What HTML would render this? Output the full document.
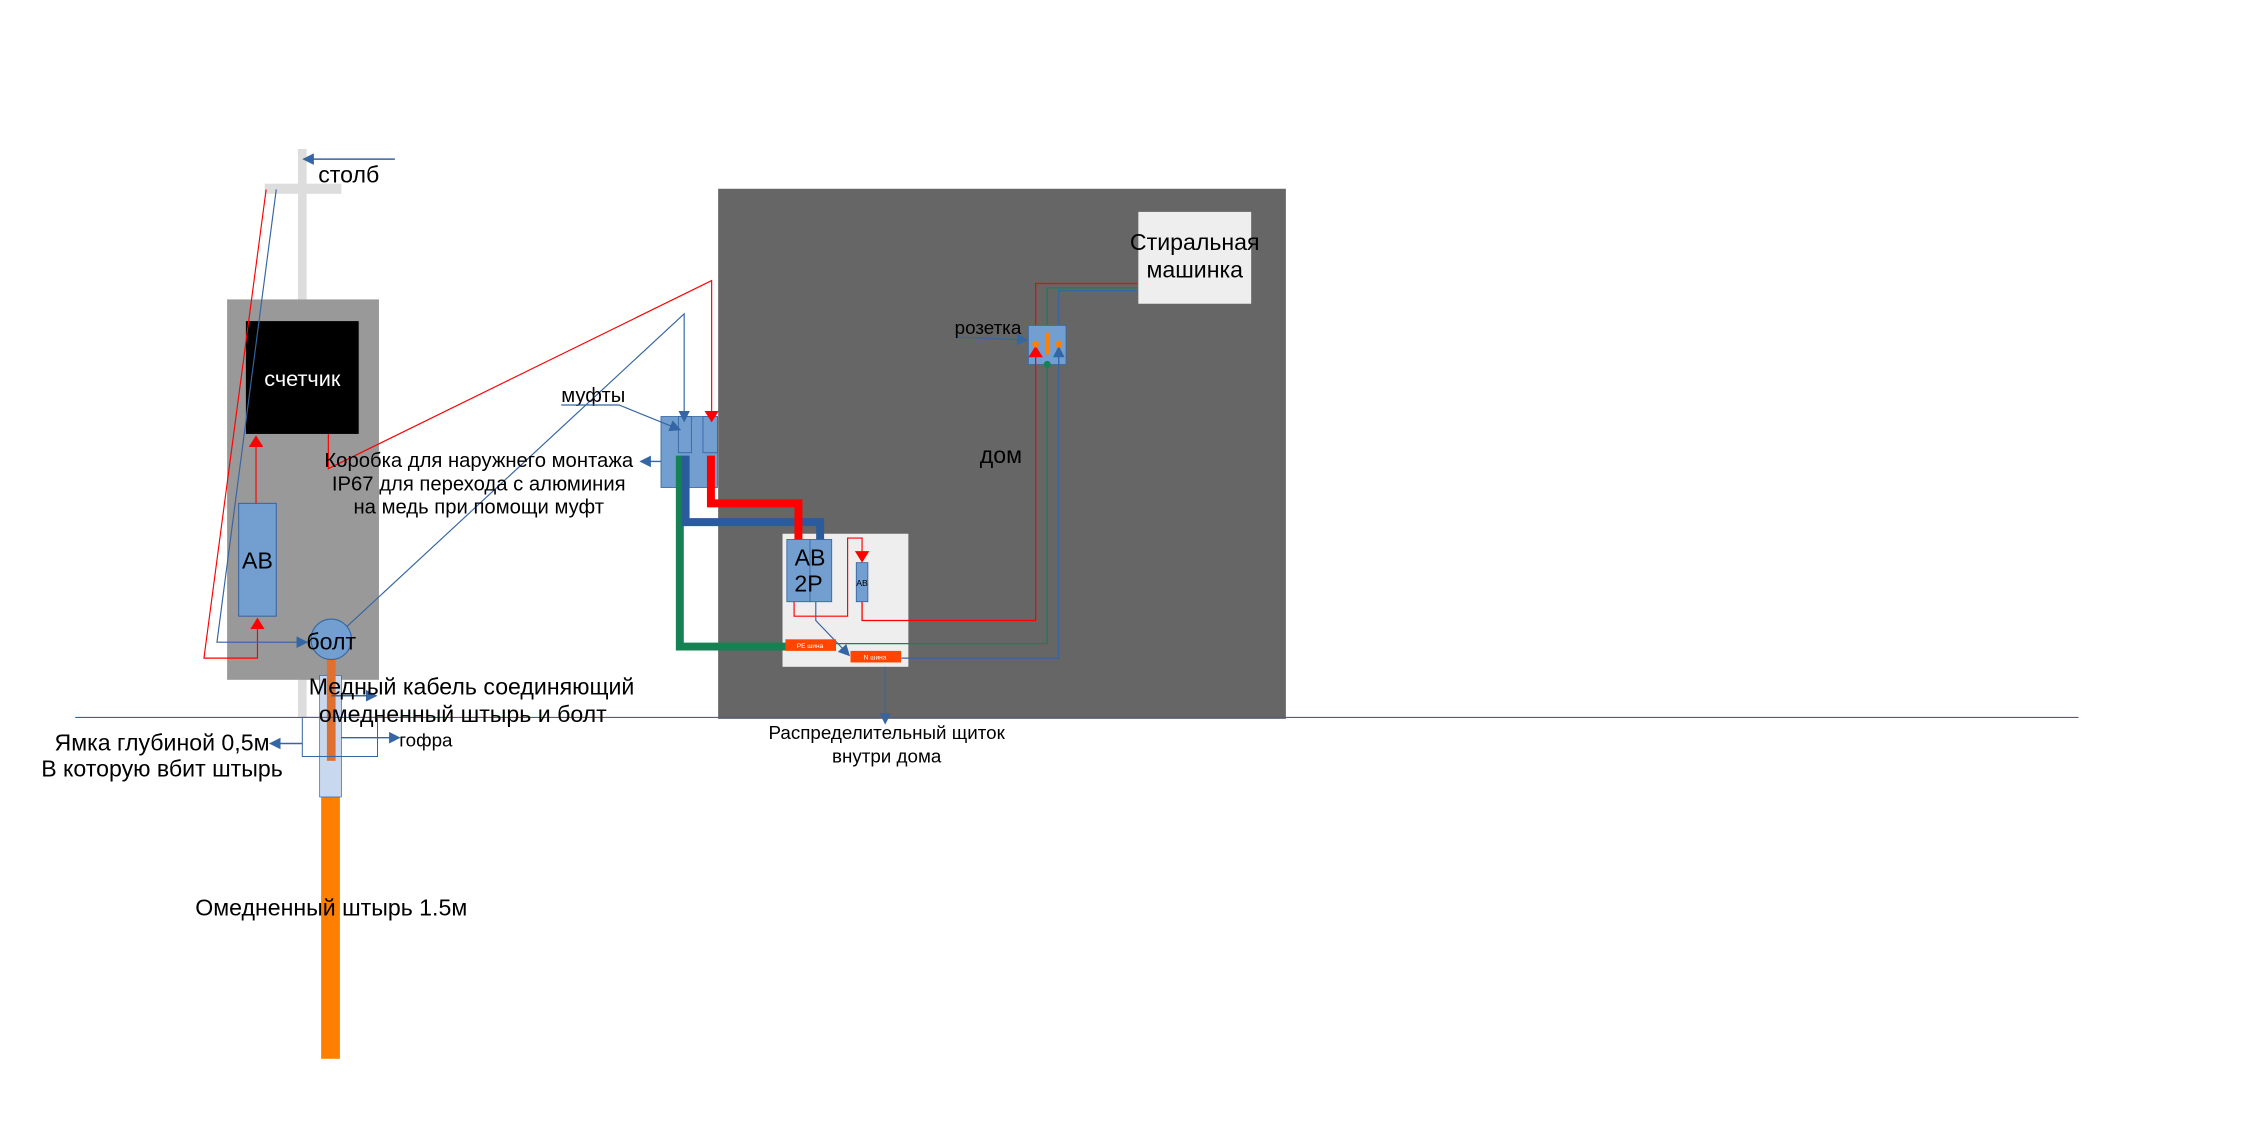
<!DOCTYPE html>
<html><head><meta charset="utf-8"><style>html,body{margin:0;padding:0;background:#fff}svg{display:block}</style></head><body>
<svg width="2268" height="1134" viewBox="0 0 1568 784" xmlns="http://www.w3.org/2000/svg" font-family="Liberation Sans, DejaVu Sans, sans-serif">
<defs>
<marker id="ab" markerWidth="8" markerHeight="8" refX="7" refY="4" orient="auto" markerUnits="userSpaceOnUse"><path d="M0,0 L8,4 L0,8 z" fill="#3465a4"/></marker>
<marker id="ar" markerWidth="8" markerHeight="10" refX="7" refY="5" orient="auto" markerUnits="userSpaceOnUse"><path d="M0,0 L8,5 L0,10 z" fill="#ff0000"/></marker>
<marker id="ag" markerWidth="8" markerHeight="8" refX="4" refY="4" orient="auto" markerUnits="userSpaceOnUse"><circle cx="4" cy="4" r="3.5" fill="#168253"/></marker>
</defs>
<!-- house -->
<rect x="496.5" y="130.5" width="392.5" height="366.5" fill="#666"/>
<!-- pole -->
<rect x="206" y="103" width="6" height="393" fill="#ddd"/>
<rect x="183" y="127" width="53" height="7" fill="#ddd"/>
<line x1="273" y1="110" x2="210" y2="110" stroke="#3465a4" stroke-width="1" marker-end="url(#ab)"/>
<text x="220" y="126" font-size="16">столб</text>
<!-- meter box -->
<rect x="157" y="207" width="105" height="263" fill="#999"/>
<rect x="170" y="222" width="78" height="78" fill="#000"/>
<text x="209" y="267" font-size="15" fill="#fff" text-anchor="middle">счетчик</text>
<rect x="165" y="348" width="26" height="78" fill="#729fcf" stroke="#3465a4" stroke-width="0.7"/>
<text x="178" y="393" font-size="16" text-anchor="middle">АВ</text>
<line x1="177" y1="348" x2="177" y2="302" stroke="#f00" stroke-width="0.8" marker-end="url(#ar)"/>
<polyline points="184,131 141,455 178,455 178,428" fill="none" stroke="#f00" stroke-width="0.8" marker-end="url(#ar)"/>
<polyline points="191,131 150,444 212,444" fill="none" stroke="#3465a4" stroke-width="0.8" marker-end="url(#ab)"/>
<!-- ground -->
<rect x="222" y="525" width="13" height="207" fill="#ff8000"/>
<rect x="221" y="467" width="15" height="84" fill="#c8d8ee" stroke="#3465a4" stroke-width="0.5"/>
<rect x="226" y="456" width="6" height="70" fill="#e07030"/>
<rect x="209" y="496" width="52" height="27" fill="none" stroke="#3465a4" stroke-width="0.7"/>
<line x1="52" y1="496" x2="1437" y2="496" stroke="#3465a4" stroke-width="0.8"/>
<circle cx="229" cy="442" r="14" fill="#729fcf" stroke="#3465a4" stroke-width="0.8"/>
<text x="229" y="449" font-size="16" text-anchor="middle">болт</text>
<line x1="229" y1="481" x2="260" y2="481" stroke="#3465a4" stroke-width="1" marker-end="url(#ab)"/>
<line x1="236" y1="510" x2="276" y2="510" stroke="#3465a4" stroke-width="1" marker-end="url(#ab)"/>
<line x1="209" y1="514" x2="187" y2="514" stroke="#3465a4" stroke-width="1" marker-end="url(#ab)"/>
<text x="326" y="480" font-size="16" text-anchor="middle">Медный кабель соединяющий</text>
<text x="320" y="499" font-size="16" text-anchor="middle">омедненный штырь и болт</text>
<text x="276" y="516" font-size="13">гофра</text>
<text x="112" y="519" font-size="16" text-anchor="middle">Ямка глубиной 0,5м</text>
<text x="112" y="537" font-size="16" text-anchor="middle">В которую вбит штырь</text>
<text x="229" y="633" font-size="16" text-anchor="middle">Омедненный штырь 1.5м</text>
<!-- outside box -->
<rect x="457" y="288" width="39" height="49" fill="#729fcf" stroke="#3465a4" stroke-width="0.6"/>
<rect x="469" y="288" width="9" height="25" fill="#729fcf" stroke="#3465a4" stroke-width="0.6"/>
<rect x="486" y="288" width="10" height="25" fill="#729fcf" stroke="#3465a4" stroke-width="0.6"/>
<polyline points="227,300 227,324 492,194 492,291" fill="none" stroke="#f00" stroke-width="0.8" marker-end="url(#ar)"/>
<polyline points="240,433 473,217 473,291" fill="none" stroke="#3465a4" stroke-width="0.8" marker-end="url(#ab)"/>
<text x="388" y="278" font-size="14">муфты</text>
<polyline points="388,280 428,280 470,297" fill="none" stroke="#3465a4" stroke-width="0.8" marker-end="url(#ab)"/>
<line x1="457" y1="319" x2="443" y2="319" stroke="#3465a4" stroke-width="1" marker-end="url(#ab)"/>
<text x="331" y="323" font-size="14" text-anchor="middle">Коробка для наружнего монтажа</text>
<text x="331" y="339" font-size="14" text-anchor="middle">IP67 для перехода с алюминия</text>
<text x="331" y="355" font-size="14" text-anchor="middle">на медь при помощи муфт</text>
<!-- panel -->
<rect x="541" y="369" width="87" height="92" fill="#eee"/>
<polyline points="470,315 470,447 544,447" fill="none" stroke="#168253" stroke-width="5.5"/>
<polyline points="474,315 474,361 567,361 567,374" fill="none" stroke="#2a5b9a" stroke-width="5.5"/>
<polyline points="491.5,315 491.5,348 552,348 552,374" fill="none" stroke="#f00" stroke-width="5.5"/>
<rect x="544" y="373" width="31" height="43" fill="#729fcf" stroke="#3465a4" stroke-width="0.6"/>
<line x1="560" y1="373" x2="560" y2="416" stroke="#3465a4" stroke-width="0.6"/>
<text x="560" y="391" font-size="16" text-anchor="middle">АВ</text>
<text x="559" y="409" font-size="16" text-anchor="middle">2Р</text>
<rect x="592" y="389" width="8" height="27" fill="#729fcf" stroke="#3465a4" stroke-width="0.6"/>
<text x="596" y="405" font-size="6" text-anchor="middle">АВ</text>
<polyline points="549,416 549,426 586,426 586,372 596,372 596,388" fill="none" stroke="#f00" stroke-width="0.8" marker-end="url(#ar)"/>
<polyline points="596,416 596,429 716,429 716,196 786,196" fill="none" stroke="#f00" stroke-width="0.9"/>
<polyline points="578,445 724,445 724,199 786,199" fill="none" stroke="#168253" stroke-width="0.9"/>
<polyline points="623,455 732,455 732,201 786,201" fill="none" stroke="#3465a4" stroke-width="0.9"/>
<polyline points="564,416 564,429 587,453" fill="none" stroke="#3465a4" stroke-width="0.8" marker-end="url(#ab)"/>
<rect x="543" y="442" width="35" height="8" fill="#ff4500"/>
<text x="560" y="448" font-size="4.5" fill="#fff" text-anchor="middle">PE шина</text>
<rect x="588" y="450" width="35" height="8" fill="#ff4500"/>
<text x="605" y="456" font-size="4.5" fill="#fff" text-anchor="middle">N шина</text>
<line x1="612" y1="461" x2="612" y2="500" stroke="#3465a4" stroke-width="0.8" marker-end="url(#ab)"/>
<text x="613" y="511" font-size="13" text-anchor="middle">Распределительный щиток</text>
<text x="613" y="527" font-size="13" text-anchor="middle">внутри дома</text>
<!-- socket -->
<rect x="711" y="225" width="26" height="27" fill="#729fcf" stroke="#3465a4" stroke-width="0.5"/>
<line x1="716" y1="252" x2="716" y2="240" stroke="#f00" stroke-width="0.9" marker-end="url(#ar)"/>
<line x1="732" y1="252" x2="732" y2="240" stroke="#3465a4" stroke-width="0.9" marker-end="url(#ab)"/>
<circle cx="724" cy="252" r="2.5" fill="#168253"/>
<circle cx="716" cy="238" r="2.3" fill="#ff8000"/>
<circle cx="732" cy="238" r="2.3" fill="#ff8000"/>
<rect x="723" y="230" width="2.5" height="15" fill="#ff8000"/>
<text x="660" y="231" font-size="13">розетка</text>
<line x1="662" y1="233" x2="710" y2="235" stroke="#3465a4" stroke-width="0.8" marker-end="url(#ab)"/>
<!-- washer -->
<rect x="787" y="146.5" width="78" height="63.5" fill="#eee"/>
<text x="826" y="173" font-size="16" text-anchor="middle">Стиральная</text>
<text x="826" y="192" font-size="16" text-anchor="middle">машинка</text>
<text x="692" y="320" font-size="16" text-anchor="middle">дом</text>
</svg>
</body></html>
